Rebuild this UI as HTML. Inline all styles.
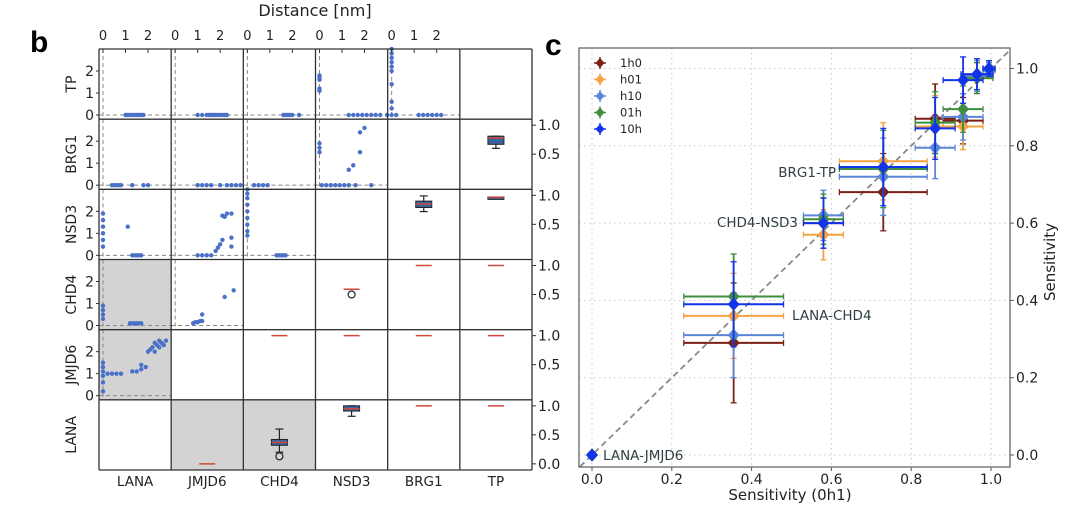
<!DOCTYPE html>
<html><head><meta charset="utf-8"><style>
html,body{margin:0;padding:0;background:#fff;}
svg{display:block;font-family:"DejaVu Sans","Liberation Sans",sans-serif;}
</style></head><body>
<svg id="s" width="1080" height="513" viewBox="0 0 1080 513" xmlns="http://www.w3.org/2000/svg">
<text x="30" y="52" font-size="30" font-weight="bold" font-family="Liberation Sans, sans-serif">b</text>
<text x="545" y="55" font-size="30" font-weight="bold" font-family="Liberation Sans, sans-serif">c</text>
<text x="315" y="16" font-size="16" text-anchor="middle" fill="#222">Distance [nm]</text>
<g id="pb"></g>
<g id="pc"></g>
</svg>
<script>
// ---------- Panel c data ----------
const pairNames = ["LANA-JMJD6","LANA-CHD4","CHD4-NSD3","BRG1-TP","p5","p6","p7","p8"];
const xVals = [0,0.355,0.58,0.73,0.86,0.93,0.965,0.995];
const xErr = [0,0.125,0.05,0.11,0.05,0.05,0.04,0.015];
const seriesNames = ["1h0","h01","h10","01h","10h"];
const s1h0 = [0,0.29,0.60,0.68,0.87,0.865,0.985,1.0];
const sh01 = [0,0.36,0.57,0.76,0.85,0.85,0.975,0.995];
const sh10 = [0,0.31,0.62,0.72,0.795,0.875,0.98,0.995];
const s01h = [0,0.41,0.61,0.74,0.86,0.895,0.975,1.0];
const s10h = [0,0.39,0.60,0.745,0.845,0.97,0.985,1.0];
const yErr1h0 = [0,0.155,0.065,0.1,0.09,0.06,0.04,0.02];
const yErrOther = [0,0.11,0.065,0.1,0.08,0.06,0.04,0.02];
const cTicks = [0,0.2,0.4,0.6,0.8,1.0];
const cTickLabels = ["0.0","0.2","0.4","0.6","0.8","1.0"];

// ---------- Panel b data ----------
const rowNames = ["TP","BRG1","NSD3","CHD4","JMJD6","LANA"];
const colNames = ["LANA","JMJD6","CHD4","NSD3","BRG1","TP"];
const distTicks = [0,1,2];
const boxTicks = [1.0,0.5,0.0];
const boxTickLabels = ["1.0","0.5","0.0"];
// scatter points [row,col,x,y]
const scatterPts = [
[0,0,1.0,0],[0,0,1.1,0],[0,0,1.2,0],[0,0,1.3,0],[0,0,1.4,0],[0,0,1.5,0],[0,0,1.6,0],[0,0,1.7,0],[0,0,1.8,0],
[0,1,1.0,0],[0,1,1.2,0],[0,1,1.4,0],[0,1,1.5,0],[0,1,1.6,0],[0,1,1.7,0],[0,1,1.8,0],[0,1,1.9,0],[0,1,2.0,0],[0,1,2.1,0],[0,1,2.2,0],[0,1,2.3,0],
[0,2,1.6,0],[0,2,1.7,0],[0,2,1.8,0],[0,2,1.9,0],[0,2,2.0,0],[0,2,2.3,0],
[0,3,0,1.1],[0,3,0,1.2],[0,3,0,1.6],[0,3,0,1.7],[0,3,0,1.8],[0,3,1.3,0],[0,3,1.5,0],[0,3,1.7,0],[0,3,1.9,0],[0,3,2.1,0],[0,3,2.3,0],[0,3,2.5,0],[0,3,2.7,0],[0,3,3.0,0],
[0,4,0,0],[0,4,0,0.3],[0,4,0,0.6],[0,4,0,1.4],[0,4,0,2.0],[0,4,0,2.2],[0,4,0,2.4],[0,4,0,2.6],[0,4,0,2.8],[0,4,0,3.0],[0,4,0.2,0],[0,4,1.2,0],[0,4,1.4,0],[0,4,1.6,0],[0,4,1.8,0],[0,4,2.0,0],[0,4,2.2,0],
[1,0,0.4,0],[1,0,0.5,0],[1,0,0.6,0],[1,0,0.7,0],[1,0,0.8,0],[1,0,1.3,0],[1,0,1.8,0],[1,0,2.0,0],
[1,1,1.0,0],[1,1,1.2,0],[1,1,1.4,0],[1,1,1.6,0],[1,1,2.0,0],[1,1,2.3,0],[1,1,2.5,0],[1,1,2.7,0],[1,1,2.9,0],
[1,2,0.3,0],[1,2,0.5,0],[1,2,0.7,0],[1,2,0.9,0],
[1,3,0,1.5],[1,3,0,1.7],[1,3,0,1.9],[1,3,0.1,0],[1,3,0.3,0],[1,3,0.5,0],[1,3,0.7,0],[1,3,0.9,0],[1,3,1.1,0],[1,3,1.3,0],[1,3,1.6,0],[1,3,2.3,0],[1,3,1.3,0.7],[1,3,1.5,0.9],[1,3,1.8,1.5],[1,3,1.8,2.4],[1,3,2.0,2.6],
[2,0,0,0.4],[2,0,0,0.7],[2,0,0,1.0],[2,0,0,1.3],[2,0,0,1.6],[2,0,0,1.9],[2,0,1.1,1.3],[2,0,1.3,0],[2,0,1.4,0],[2,0,1.5,0],[2,0,1.6,0],[2,0,1.7,0],
[2,1,1.0,0],[2,1,1.2,0],[2,1,1.4,0],[2,1,1.6,0],[2,1,1.8,0.2],[2,1,1.9,0.35],[2,1,2.0,0.5],[2,1,2.1,0.7],[2,1,2.1,1.8],[2,1,2.2,1.75],[2,1,2.3,1.9],[2,1,2.5,1.9],[2,1,2.5,0.4],[2,1,2.5,0.8],
[2,2,0,0.9],[2,2,0,1.1],[2,2,0,1.4],[2,2,0,1.7],[2,2,0,2.0],[2,2,0,2.3],[2,2,0,2.6],[2,2,0,2.8],[2,2,0,3.0],[2,2,1.3,0],[2,2,1.4,0],[2,2,1.5,0],[2,2,1.6,0],[2,2,1.7,0],
[3,0,0,0.3],[3,0,0,0.5],[3,0,0,0.7],[3,0,0,0.9],[3,0,1.2,0.1],[3,0,1.3,0.1],[3,0,1.4,0.1],[3,0,1.5,0.1],[3,0,1.6,0.1],[3,0,1.7,0.1],
[3,1,0.8,0.1],[3,1,0.9,0.15],[3,1,1.0,0.15],[3,1,1.1,0.2],[3,1,1.2,0.2],[3,1,1.2,0.5],[3,1,2.2,1.3],[3,1,2.6,1.6],
[4,0,0,0.2],[4,0,0,0.6],[4,0,0,0.9],[4,0,0,1.1],[4,0,0,1.3],[4,0,0,1.5],[4,0,0.2,1.0],[4,0,0.4,1.0],[4,0,0.6,1.0],[4,0,0.8,1.0],[4,0,1.3,1.1],[4,0,1.5,1.1],[4,0,1.7,1.4],[4,0,1.7,1.2],[4,0,1.9,1.3],[4,0,2.0,2.0],[4,0,2.1,2.1],[4,0,2.2,2.2],[4,0,2.3,2.0],[4,0,2.4,2.3],[4,0,2.5,2.2],[4,0,2.6,2.4],[4,0,2.7,2.3],[4,0,2.8,2.5],[4,0,2.5,2.5],[4,0,2.3,2.4]
];
// box cells [row,col,whiskLo,q1,median,q3,whiskHi,outlier(-1 none)]
const boxCells = [
[1,5,0.6,0.67,0.78,0.81,0.81,-1],
[2,4,0.72,0.79,0.85,0.9,0.99,-1],
[2,5,0.93,0.93,0.97,0.97,0.97,-1],
[3,3,0.59,0.59,0.59,0.59,0.59,0.5],
[3,4,1,1,1,1,1,-1],[3,5,1,1,1,1,1,-1],
[4,2,1,1,1,1,1,-1],[4,3,1,1,1,1,1,-1],[4,4,1,1,1,1,1,-1],[4,5,1,1,1,1,1,-1],
[5,1,0,0,0,0,0,-1],
[5,2,0.2,0.32,0.37,0.42,0.6,0.13],
[5,3,0.82,0.91,0.95,1.0,1.0,-1],
[5,4,1,1,1,1,1,-1],[5,5,1,1,1,1,1,-1]
];
const grayCells = [[3,0],[4,0],[5,1],[5,2]];

const NS="http://www.w3.org/2000/svg";
function mk(parent,tag,attrs,text){const e=document.createElementNS(NS,tag);for(const k in attrs)e.setAttribute(k,attrs[k]);if(text!==undefined)e.textContent=text;parent.appendChild(e);return e;}

// ---------- Panel b ----------
const pb=document.getElementById('pb');
const bL=99,bR=532,bT=49,bB=470;
const cw=(bR-bL)/6, ch=(bB-bT)/6;
const cellX=c=>bL+c*cw, cellY=r=>bT+r*ch;
const dX=(c,v)=>cellX(c)+4+v*22.5;
const dY=(r,v)=>cellY(r)+66-v*22;
const pY=(r,v)=>cellY(r)+6+(1-v)*58;
grayCells.forEach(g=>{
 const e=mk(pb,'rect',{x:cellX(g[1]),y:cellY(g[0]),width:cw,height:ch,fill:'#d3d3d3'});
 
 
});
for(let r=0;r<6;r++)for(let c=0;c<6;c++){
 if(c+r<5){
  mk(pb,'line',{x1:dX(c,0),x2:dX(c,0),y1:cellY(r),y2:cellY(r)+ch,stroke:'#888','stroke-width':1,'stroke-dasharray':'4,3'});
  mk(pb,'line',{x1:cellX(c),x2:cellX(c)+cw,y1:dY(r,0),y2:dY(r,0),stroke:'#888','stroke-width':1,'stroke-dasharray':'4,3'});
 }
}
scatterPts.forEach(p=>{
 const e=mk(pb,'circle',{cx:dX(p[1],p[2]),cy:dY(p[0],p[3]),r:2.2,fill:'#4a70c8'});
 
 
});
boxCells.forEach(b=>{
 const [r,c,wl,q1,md,q3,wh,out]=b;
 const cx=cellX(c)+cw/2;
 const g=mk(pb,'g',{});
 
 
 if(wh>q3||wl<q1){
  mk(g,'line',{x1:cx,x2:cx,y1:pY(r,wh),y2:pY(r,wl),stroke:'#222','stroke-width':1.2});
  mk(g,'line',{x1:cx-4,x2:cx+4,y1:pY(r,wh),y2:pY(r,wh),stroke:'#222','stroke-width':1.2});
  mk(g,'line',{x1:cx-4,x2:cx+4,y1:pY(r,wl),y2:pY(r,wl),stroke:'#222','stroke-width':1.2});
 }
 if(q3>q1) mk(g,'rect',{x:cx-8,y:pY(r,q3),width:16,height:pY(r,q1)-pY(r,q3),fill:'#3a64a0',stroke:'#222','stroke-width':1});
 mk(g,'line',{x1:cx-8,x2:cx+8,y1:pY(r,md),y2:pY(r,md),stroke:'#d04a3a','stroke-width':1.5});
 if(out>=0) mk(g,'circle',{cx:cx,cy:pY(r,out),r:3.5,fill:'none',stroke:'#222','stroke-width':1.2});
});
for(let i=0;i<=6;i++){
 mk(pb,'line',{x1:cellX(i),x2:cellX(i),y1:bT,y2:bB,stroke:'#333','stroke-width':1.3});
 mk(pb,'line',{x1:bL,x2:bR,y1:cellY(i),y2:cellY(i),stroke:'#333','stroke-width':1.3});
}
for(let c=0;c<5;c++){
 distTicks.forEach(t=>{
  mk(pb,'line',{x1:dX(c,t),x2:dX(c,t),y1:bT,y2:bT+4,stroke:'#333'});
  const e=mk(pb,'text',{x:dX(c,t),y:bT-9,'font-size':13,'text-anchor':'middle',fill:'#222'},String(t));
  
  
 });
}
for(let r=0;r<5;r++){
 distTicks.forEach(t=>{
  mk(pb,'line',{x1:bL-3,x2:bL,y1:dY(r,t),y2:dY(r,t),stroke:'#333'});
  const e=mk(pb,'text',{x:bL-5,y:dY(r,t)+5,'font-size':14,'text-anchor':'end',fill:'#222'},String(t));
  
  
 });
}
for(let r=1;r<6;r++){
 boxTicks.forEach((t,i)=>{
  if(r<5&&t===0)return;
  mk(pb,'line',{x1:bR,x2:bR+4,y1:pY(r,t),y2:pY(r,t),stroke:'#333'});
  const e=mk(pb,'text',{x:bR+6,y:pY(r,t)+5,'font-size':14,fill:'#222'},boxTickLabels[i]);
  
  
 });
}
rowNames.forEach((n,r)=>{
 const y=cellY(r)+ch/2, x=76;
 const e=mk(pb,'text',{x:x,y:y,'font-size':14,'text-anchor':'middle',fill:'#222',transform:`rotate(-90 ${x} ${y})`},n);
 
 
});
colNames.forEach((n,c)=>{
 const e=mk(pb,'text',{x:cellX(c)+cw/2,y:bB+16,'font-size':13.5,'text-anchor':'middle',fill:'#222'},n);
 
 
});

// ---------- Panel c ----------
const pc=document.getElementById('pc');
const fL=579,fR=1010,fT=48,fB=467;
const sx=v=>592+v*399, sy=v=>455-v*386.5;
cTicks.forEach((t,i)=>{
 mk(pc,'line',{x1:sx(t),x2:sx(t),y1:fT,y2:fB,stroke:'#c8c8c8','stroke-dasharray':'1.5,3.5'});
 mk(pc,'line',{x1:fL,x2:fR,y1:sy(t),y2:sy(t),stroke:'#c8c8c8','stroke-dasharray':'1.5,3.5'});
 mk(pc,'line',{x1:sx(t),x2:sx(t),y1:fB,y2:fB+4,stroke:'#555'});
 mk(pc,'line',{x1:fR,x2:fR+4,y1:sy(t),y2:sy(t),stroke:'#555'});
 const a=mk(pc,'text',{x:sx(t),y:fB+17,'font-size':14,'text-anchor':'middle',fill:'#222'},cTickLabels[i]);
 
 
 const b=mk(pc,'text',{x:fR+6,y:sy(t)+5,'font-size':14,fill:'#222'},cTickLabels[i]);
 
 
});
const diag=mk(pc,'line',{x1:sx(-0.03),y1:sy(-0.03),x2:sx(1.05),y2:sy(1.05),stroke:'#888','stroke-width':1.8,'stroke-dasharray':'6,4'});


const colors=['#7a1f14','#f5a243','#5b85d8','#3f8e3f','#1234e8'];
const allSeries=[s1h0,sh01,sh10,s01h,s10h];
allSeries.forEach((ser,si)=>{
 const col=colors[si];
 const g=mk(pc,'g',{});
 
 
 ser.forEach((v,i)=>{
  const x=xVals[i], xe=xErr[i], ye=(si===0?yErr1h0:yErrOther)[i];
  if(xe>0){
   mk(g,'line',{x1:sx(x-xe),x2:sx(x+xe),y1:sy(v),y2:sy(v),stroke:col,'stroke-width':2});
   mk(g,'line',{x1:sx(x-xe),x2:sx(x-xe),y1:sy(v)-3,y2:sy(v)+3,stroke:col,'stroke-width':1.3});
   mk(g,'line',{x1:sx(x+xe),x2:sx(x+xe),y1:sy(v)-3,y2:sy(v)+3,stroke:col,'stroke-width':1.3});
  }
  if(ye>0){
   mk(g,'line',{x1:sx(x),x2:sx(x),y1:sy(v-ye),y2:sy(v+ye),stroke:col,'stroke-width':1.8});
   mk(g,'line',{x1:sx(x)-3,x2:sx(x)+3,y1:sy(v-ye),y2:sy(v-ye),stroke:col,'stroke-width':1.3});
   mk(g,'line',{x1:sx(x)-3,x2:sx(x)+3,y1:sy(v+ye),y2:sy(v+ye),stroke:col,'stroke-width':1.3});
  }
  const px=sx(x),py=sy(v);
  const m=mk(g,'polygon',{points:`${px},${py-6.5} ${px+6},${py} ${px},${py+6.5} ${px-6},${py}`,fill:col});
  
  
 });
});
mk(pc,'rect',{x:fL,y:fT,width:fR-fL,height:fB-fT,fill:'none',stroke:'#666','stroke-width':1.3});
[[pairNames[0],sx(xVals[0])+11,sy(0)+5,'start'],
 [pairNames[1],792,320,'start'],
 [pairNames[2],798,227,'end'],
 [pairNames[3],836,177,'end']].forEach(a=>{
 const e=mk(pc,'text',{x:a[1],y:a[2],'font-size':13.5,'text-anchor':a[3],fill:'#2f3f44'},a[0]);
 
 
});
seriesNames.forEach((n,i)=>{
 const y=63+i*16.5, x=600, col=colors[i];
 const g=mk(pc,'g',{});
 
 
 mk(g,'line',{x1:x-6,x2:x+6,y1:y,y2:y,stroke:col,'stroke-width':1.5});
 mk(g,'line',{x1:x,x2:x,y1:y-6,y2:y+6,stroke:col,'stroke-width':1.5});
 mk(g,'polygon',{points:`${x},${y-5} ${x+4.5},${y} ${x},${y+5} ${x-4.5},${y}`,fill:col});
 mk(g,'text',{x:x+20,y:y+4,'font-size':11.5,fill:'#222'},n);
});
const xt=mk(pc,'text',{x:790,y:500,'font-size':15,'text-anchor':'middle',fill:'#222'},'Sensitivity (0h1)');


const yt=mk(pc,'text',{x:1055,y:262,'font-size':15,'text-anchor':'middle',fill:'#222',transform:'rotate(-90 1055 262)'},'Sensitivity');


</script>
</body></html>
